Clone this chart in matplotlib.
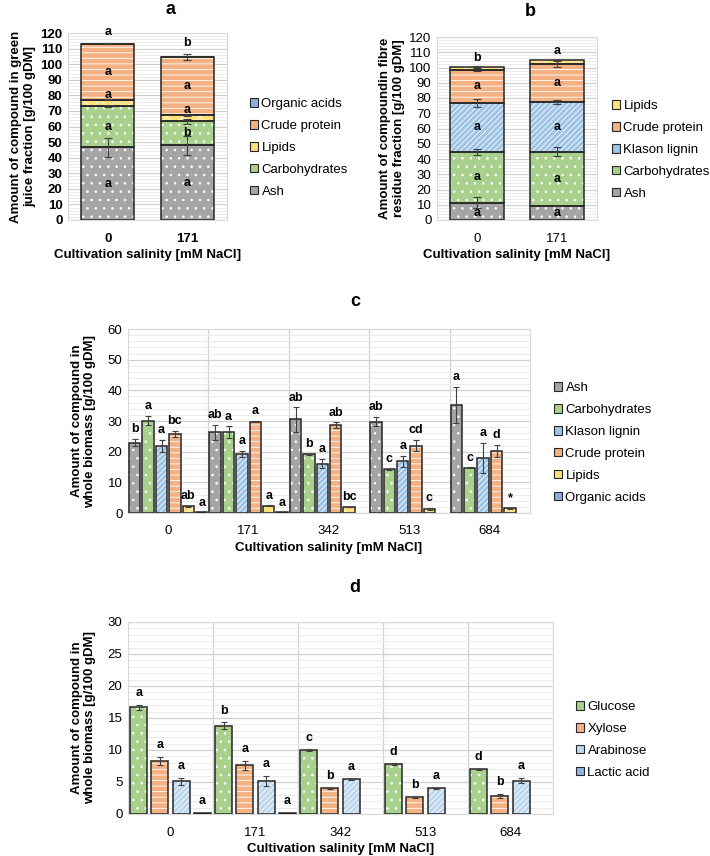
import numpy as np
import matplotlib
matplotlib.use("Agg")
import matplotlib.pyplot as plt
from matplotlib.patches import Patch

plt.rcParams['font.family'] = ['Liberation Sans', 'DejaVu Sans']
plt.rcParams['hatch.linewidth'] = 0.6

# ---- panel a: green juice fraction (stacked) ----
cats_ab = ['0', '171']
a_ash = [46.7, 48.0]
a_ash_err = [6.0, 6.0]
a_carb = [26.6, 15.4]
a_carb_err = [0.5, 1.5]
a_lip = [3.8, 3.9]
a_lip_err = [0.3, 0.4]
a_cp = [36.0, 37.3]
a_cp_err = [0.3, 2.0]
a_oa = [0.1, 0.1]
a_let = {'ash': ['a', 'a'], 'carb': ['a', 'b'], 'lip': ['a', 'a'],
         'cp': ['a', 'a'], 'oa': ['a', 'b']}

# ---- panel b: fibre residue fraction (stacked) ----
b_ash = [11.3, 9.2]
b_ash_err = [3.5, 0.3]
b_carb = [33.4, 35.5]
b_carb_err = [2.0, 3.0]
b_kl = [32.1, 32.8]
b_kl_err = [2.5, 1.5]
b_cp = [21.8, 25.1]
b_cp_err = [1.0, 2.0]
b_lip = [1.8, 2.1]
b_lip_err = [0.3, 0.3]
b_let = {'ash': ['a', 'a'], 'carb': ['a', 'a'], 'kl': ['a', 'a'],
         'cp': ['a', 'a'], 'lip': ['b', 'a']}

# ---- panel c: whole biomass composition ----
salinity = ['0', '171', '342', '513', '684']
c_ash = [22.9, 26.3, 30.5, 29.8, 35.2]
c_ash_err = [1.2, 2.5, 4.0, 1.5, 6.0]
c_carb = [30.1, 26.3, 19.2, 14.2, 14.8]
c_carb_err = [1.5, 2.0, 0.2, 0.1, 0.1]
c_kl = [21.8, 19.2, 16.1, 16.9, 17.9]
c_kl_err = [2.0, 1.0, 1.5, 1.8, 5.0]
c_cp = [25.7, 29.8, 28.6, 22.0, 20.2]
c_cp_err = [1.0, 0.2, 1.0, 1.8, 2.0]
c_lip = [2.2, 2.4, 1.9, 1.3, 1.5]
c_lip_err = [0.1, 0.1, 0.1, 0.3, 0.1]
c_oa = [0.2, 0.2, np.nan, np.nan, np.nan]
c_oa_err = [0.0, 0.0, np.nan, np.nan, np.nan]
c_ash_let = ['b', 'ab', 'ab', 'ab', 'a']
c_carb_let = ['a', 'a', 'b', 'c', 'c']
c_kl_let = ['a', 'a', 'a', 'a', 'a']
c_cp_let = ['bc', 'a', 'ab', 'cd', 'd']
c_lip_let = ['ab', 'a', 'bc', 'c', '*']
c_oa_let = ['a', 'a', '', '', '']

# ---- panel d: sugars and lactic acid ----
d_glu = [16.7, 13.8, 10.0, 7.8, 7.0]
d_glu_err = [0.4, 0.5, 0.1, 0.1, 0.1]
d_xyl = [8.3, 7.6, 4.0, 2.6, 2.8]
d_xyl_err = [0.6, 0.7, 0.05, 0.05, 0.3]
d_ara = [5.1, 5.2, 5.4, 4.0, 5.2]
d_ara_err = [0.6, 0.8, 0.1, 0.05, 0.4]
d_lac = [0.15, 0.15, np.nan, np.nan, np.nan]
d_lac_err = [0.0, 0.0, np.nan, np.nan, np.nan]
d_glu_let = ['a', 'b', 'c', 'd', 'd']
d_xyl_let = ['a', 'a', 'b', 'b', 'b']
d_ara_let = ['a', 'a', 'a', 'a', 'a']
d_lac_let = ['a', 'a', '', '', '']

# styles
ST = {
    'Ash': ('#a5a5a5', '..'),
    'Carbohydrates': ('#a9d18e', '..'),
    'Klason lignin': ('#9dc3e6', '//////'),
    'Crude protein': ('#f4b183', '---'),
    'Lipids': ('#ffe07a', 'xx'),
    'Organic acids': ('#8faadc', '..'),
    'Glucose': ('#a9d18e', '..'),
    'Xylose': ('#f4b183', '---'),
    'Arabinose': ('#bdd7ee', '//////'),
    'Lactic acid': ('#8fb4e3', '\\\\\\\\'),
}
EDGE = '#262626'
ERRC = '#404040'
GRID_MAJ = '#d0d0d0'
GRID_MIN = '#ebebeb'


def hbar(ax, x, h, w, bottom, name):
    col, hat = ST[name]
    ax.bar(x, h, w, bottom=bottom, color=col, edgecolor='white', hatch=hat, lw=0, zorder=2)
    ax.bar(x, h, w, bottom=bottom, fill=False, edgecolor=EDGE, lw=1.1, zorder=3)


def style_axes(ax, ymax, major, minor, bold_ticks=False):
    ax.set_ylim(0, ymax)
    ax.set_yticks(np.arange(0, ymax + 0.1, major))
    ax.set_yticks(np.arange(0, ymax + 0.1, minor), minor=True)
    ax.grid(axis='y', which='major', color=GRID_MAJ, lw=0.9, zorder=0)
    ax.grid(axis='y', which='minor', color=GRID_MIN, lw=0.7, zorder=0)
    ax.tick_params(axis='both', which='both', length=0, labelsize=9.5)
    ax.tick_params(axis='y', pad=4)
    ax.tick_params(axis='x', pad=9)
    for s in ax.spines.values():
        s.set_color('#d9d9d9')
    if bold_ticks:
        for lab in ax.get_xticklabels() + ax.get_yticklabels():
            lab.set_fontweight('bold')
    ax.set_axisbelow(True)


def legend(fig, names, x, y):
    hs = [Patch(facecolor=ST[n][0], edgecolor=EDGE, lw=0.8, label=n) for n in names]
    fig.legend(handles=hs, loc='center left', bbox_to_anchor=(x, y), frameon=False,
               fontsize=9.5, handlelength=0.6, handleheight=0.6, handletextpad=0.25,
               labelspacing=0.75, borderaxespad=0)


def letter(ax, x, y, s, va='bottom'):
    ax.text(x, y, s, ha='center', va=va, fontsize=9, fontweight='bold', zorder=5)


fig = plt.figure(figsize=(7.1, 8.56), dpi=100)
W, H = 710, 856


def add_ax(l, t, r, b):
    return fig.add_axes([l / W, 1 - b / H, (r - l) / W, (b - t) / H])


# ---------------- panel a ----------------
ax = add_ax(68, 33, 227, 220)
xs = np.arange(2)
bw = 0.67
bot = np.zeros(2)
layers_a = [('Ash', a_ash, a_ash_err, 'ash'), ('Carbohydrates', a_carb, a_carb_err, 'carb'),
            ('Lipids', a_lip, a_lip_err, 'lip'), ('Crude protein', a_cp, a_cp_err, 'cp'),
            ('Organic acids', a_oa, [0, 0], 'oa')]
for name, vals, err, key in layers_a:
    vals = np.array(vals)
    hbar(ax, xs, vals, bw, bot, name)
    top = bot + vals
    if key != 'oa':
        ax.errorbar(xs, top, yerr=err, fmt='none', ecolor=ERRC, elinewidth=0.8, capsize=3, capthick=0.8, zorder=4)
    for i in range(2):
        if key == 'lip':
            letter(ax, xs[i], top[i] + 3.2, a_let[key][i], va='center')
        elif key == 'oa':
            letter(ax, xs[i], top[i] + max(a_cp_err[i], 0.3) + 3, a_let[key][i])
        else:
            letter(ax, xs[i], bot[i] + vals[i] / 2, a_let[key][i], va='center')
    bot = top
ax.set_xlim(-0.5, 1.5)
ax.set_xticks(xs, cats_ab)
style_axes(ax, 120, 10, 2, bold_ticks=True)
ax.set_xlabel('Cultivation salinity [mM NaCl]', fontsize=9.5, fontweight='bold', labelpad=3)
ax.set_ylabel('Amount of compound in green\njuice fraction [g/100 gDM]', fontsize=9.5,
              fontweight='bold', labelpad=3)
legend(fig, ['Organic acids', 'Crude protein', 'Lipids', 'Carbohydrates', 'Ash'], 245 / W, 1 - 148 / H)

# ---------------- panel b ----------------
ax = add_ax(437, 37, 597, 220)
bot = np.zeros(2)
layers_b = [('Ash', b_ash, b_ash_err, 'ash'), ('Carbohydrates', b_carb, b_carb_err, 'carb'),
            ('Klason lignin', b_kl, b_kl_err, 'kl'), ('Crude protein', b_cp, b_cp_err, 'cp'),
            ('Lipids', b_lip, b_lip_err, 'lip')]
for name, vals, err, key in layers_b:
    vals = np.array(vals)
    hbar(ax, xs, vals, bw, bot, name)
    top = bot + vals
    ax.errorbar(xs, top, yerr=err, fmt='none', ecolor=ERRC, elinewidth=0.8, capsize=3, capthick=0.8, zorder=4)
    for i in range(2):
        if key == 'lip':
            letter(ax, xs[i], top[i] + 2, b_let[key][i])
        elif key == 'ash':
            letter(ax, xs[i], 4.4, b_let[key][i], va='center')
        else:
            letter(ax, xs[i], bot[i] + vals[i] / 2, b_let[key][i], va='center')
    bot = top
ax.set_xlim(-0.5, 1.5)
ax.set_xticks(xs, cats_ab)
style_axes(ax, 120, 10, 2)
ax.set_xlabel('Cultivation salinity [mM NaCl]', fontsize=9.5, fontweight='bold', labelpad=3)
ax.set_ylabel('Amount of compoundin fibre\nresidue fraction [g/100 gDM]', fontsize=9.5,
              fontweight='bold', labelpad=3)
legend(fig, ['Lipids', 'Crude protein', 'Klason lignin', 'Carbohydrates', 'Ash'], 607 / W, 1 - 150 / H)


# ---------------- grouped panels ----------------
def grouped(ax, series, nslot, bwid, ymax, off):
    xs = np.arange(len(salinity))
    for j, (name, vals, err, lets) in enumerate(series):
        xpos = xs - 0.5 + (j + 0.5) / nslot
        for i in range(len(salinity)):
            v = vals[i]
            if np.isnan(v):
                continue
            hbar(ax, xpos[i], v, bwid, 0, name)
            e = err[i]
            if e > 0:
                ax.errorbar(xpos[i], v, yerr=e, fmt='none', ecolor=ERRC, elinewidth=0.8,
                            capsize=2.5, capthick=0.8, zorder=4)
            letter(ax, xpos[i], v + e + off, lets[i])
    ax.set_xlim(-0.5, len(salinity) - 0.5)
    ax.set_xticks(xs, salinity)
    ax.set_xticks(np.arange(0.5, len(salinity) - 0.5), minor=True)
    ax.grid(axis='x', which='minor', color=GRID_MAJ, lw=0.9, zorder=0)
    ax.tick_params(axis='x', which='minor', labelbottom=False)


ax = add_ax(128, 329, 530, 513)
grouped(ax, [('Ash', c_ash, c_ash_err, c_ash_let),
             ('Carbohydrates', c_carb, c_carb_err, c_carb_let),
             ('Klason lignin', c_kl, c_kl_err, c_kl_let),
             ('Crude protein', c_cp, c_cp_err, c_cp_let),
             ('Lipids', c_lip, c_lip_err, c_lip_let),
             ('Organic acids', c_oa, c_oa_err, c_oa_let)], 6, 0.14, 60, 1.2)
style_axes(ax, 60, 10, 2)
ax.set_xlabel('Cultivation salinity [mM NaCl]', fontsize=9.5, fontweight='bold', labelpad=3)
ax.set_ylabel('Amount of compound in\nwhole biomass [g/100 gDM]', fontsize=9.5,
              fontweight='bold', labelpad=8)
legend(fig, ['Ash', 'Carbohydrates', 'Klason lignin', 'Crude protein', 'Lipids', 'Organic acids'],
       549 / W, 1 - 443 / H)

ax = add_ax(128, 622, 553, 814)
grouped(ax, [('Glucose', d_glu, d_glu_err, d_glu_let),
             ('Xylose', d_xyl, d_xyl_err, d_xyl_let),
             ('Arabinose', d_ara, d_ara_err, d_ara_let),
             ('Lactic acid', d_lac, d_lac_err, d_lac_let)], 4, 0.2, 30, 0.9)
style_axes(ax, 30, 5, 1)
ax.set_xlabel('Cultivation salinity [mM NaCl]', fontsize=9.5, fontweight='bold', labelpad=3)
ax.set_ylabel('Amount of compound in\nwhole biomass [g/100 gDM]', fontsize=9.5,
              fontweight='bold', labelpad=8)
legend(fig, ['Glucose', 'Xylose', 'Arabinose', 'Lactic acid'], 571 / W, 1 - 740 / H)

# panel titles
for s, x, y in [('a', 170, 10), ('b', 530, 12), ('c', 355, 302), ('d', 355, 588)]:
    fig.text(x / W, 1 - y / H, s, ha='center', va='center', fontsize=13, fontweight='bold')

fig.savefig('out.png', dpi=100)
